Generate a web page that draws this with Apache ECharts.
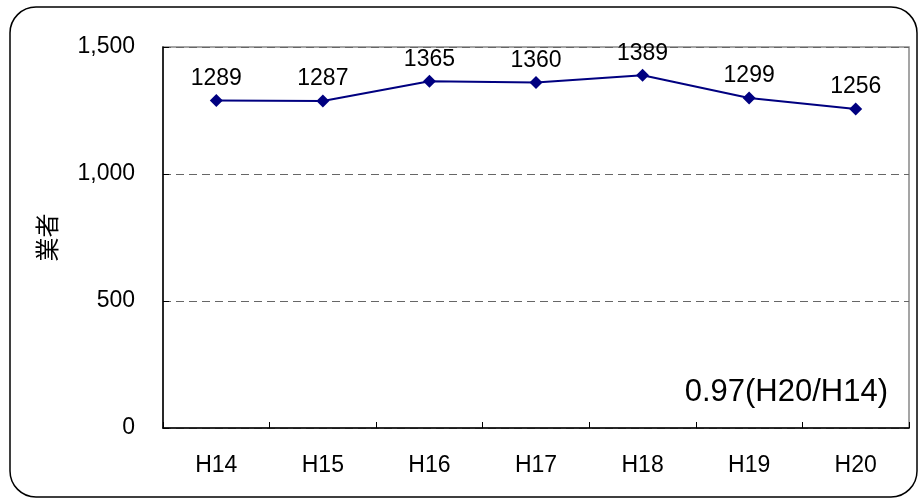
<!DOCTYPE html>
<html><head><meta charset="utf-8">
<script src="https://cdn.jsdelivr.net/npm/echarts@6/dist/echarts.min.js"></script>
<style>html,body{margin:0;padding:0;background:#fff}#c{width:920px;height:500px}</style>
</head><body><div id="c"></div>
<script>
var categories = ['H14','H15','H16','H17','H18','H19','H20'];
var values = [1289, 1287, 1365, 1360, 1389, 1299, 1256];
var yTicks = [0, 500, 1000, 1500];
var axisName = '業者';
var note = '0.97(H20/H14)';
var FONT = '"Liberation Sans", Arial, "Noto Sans CJK JP", sans-serif';

var chart = echarts.init(document.getElementById('c'), null, {renderer:'canvas'});
chart.setOption({
  animation: false,
  backgroundColor: '#fff',
  textStyle: {fontFamily: FONT},
  grid: {left:163, right:11, top:47, bottom:72, show:true, borderColor:'#888', borderWidth:1.5},
  graphic: [
    {type:'rect', shape:{x:10, y:7, width:907, height:490, r:26}, style:{fill:'none', stroke:'#000', lineWidth:1.5}, silent:true}
  ],
  title: {text: note, right: 27, top: 372, textStyle:{fontSize:31, fontWeight:'normal', color:'#000', fontFamily: FONT}},
  xAxis: {
    type:'category', data: categories, boundaryGap:true,
    axisLine:{lineStyle:{color:'#000', width:1.5}},
    axisTick:{show:true, inside:true, length:6, lineStyle:{color:'#000'}},
    axisLabel:{color:'#000', fontSize:23, margin:26, fontFamily: FONT}
  },
  yAxis: {
    type:'value', min: yTicks[0], max: yTicks[yTicks.length-1], interval: yTicks[1]-yTicks[0],
    name: axisName, nameLocation:'middle', nameRotate:90, nameGap:102,
    nameTextStyle:{fontSize:24, color:'#000', fontFamily: FONT},
    axisLine:{show:true, lineStyle:{color:'#000', width:1.5}},
    axisTick:{show:true, inside:true, length:6, lineStyle:{color:'#000'}},
    axisLabel:{color:'#000', fontSize:23, margin:28, fontFamily: FONT,
      formatter:function(v){return v.toLocaleString('en-US');}},
    splitLine:{show:true, lineStyle:{color:'#666', type:[8,5], width:1}}
  },
  series: [{
    type:'line', data: values,
    symbol:'diamond', symbolSize:[13,13],
    lineStyle:{color:'#000080', width:2},
    itemStyle:{color:'#000080'},
    label:{show:true, position:'top', distance:4, color:'#000', fontSize:23, fontFamily: FONT}
  }]
});
</script></body></html>
